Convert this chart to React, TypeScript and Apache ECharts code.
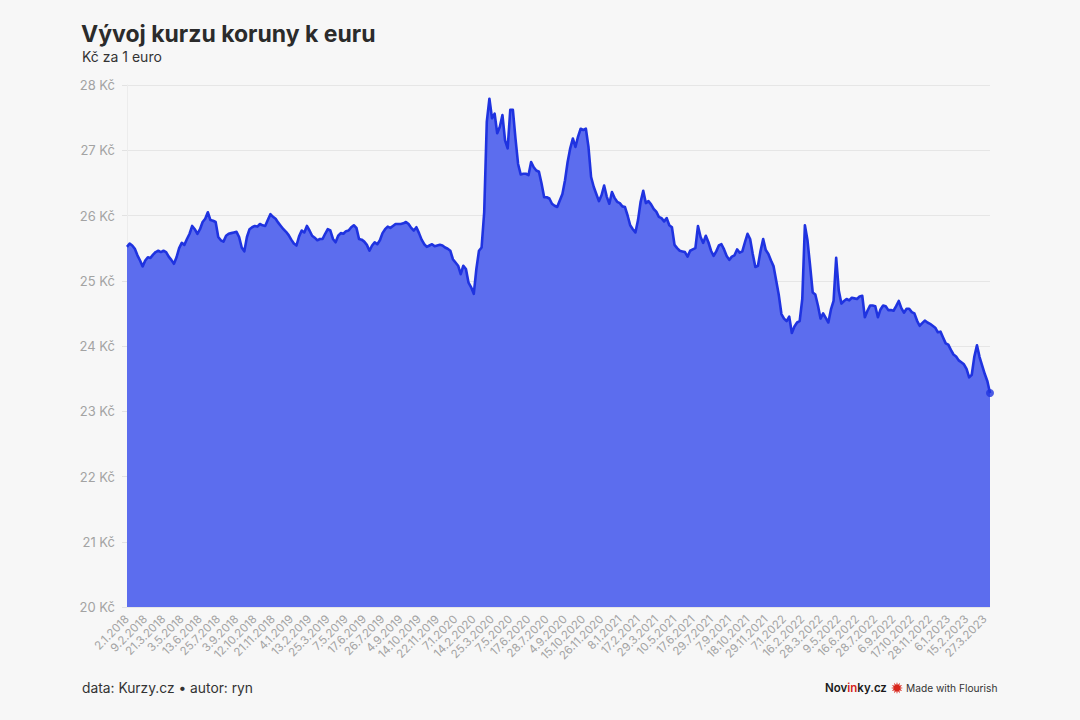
import React, { useEffect, useRef } from "react";
import * as echarts from "echarts";

// One value every 4 trading days (index step), starting 2.1.2018
const STEP = 4;

const rate2018 = [
  25.52, 25.57, 25.54, 25.49, 25.39, 25.31, 25.22, 25.31, 25.36, 25.35,
  25.40, 25.44, 25.46, 25.44, 25.46, 25.44, 25.37, 25.32, 25.26, 25.36,
  25.50, 25.58, 25.55, 25.64, 25.72, 25.84, 25.79, 25.72, 25.79, 25.90,
  25.95, 26.05, 25.93, 25.92, 25.90, 25.67, 25.62, 25.60, 25.69, 25.72,
  25.73, 25.74, 25.75, 25.67, 25.51, 25.45, 25.67, 25.79, 25.82, 25.84,
  25.83, 25.87, 25.85, 25.84, 25.93, 26.02, 25.98, 25.95, 25.89, 25.84,
  25.79, 25.75, 25.70,
];

const rate2019 = [
  25.63, 25.57, 25.54, 25.68, 25.77, 25.74, 25.84, 25.77, 25.69, 25.66,
  25.62, 25.64, 25.64, 25.72, 25.79, 25.77, 25.64, 25.59, 25.69, 25.73,
  25.72, 25.76, 25.77, 25.82, 25.85, 25.81, 25.64, 25.63, 25.60, 25.55,
  25.46, 25.54, 25.59, 25.56, 25.62, 25.73, 25.79, 25.83, 25.81, 25.84,
  25.87, 25.87, 25.87, 25.88, 25.90, 25.87, 25.81, 25.77, 25.82, 25.73,
  25.63, 25.56, 25.52, 25.54, 25.56, 25.53, 25.54, 25.55, 25.54, 25.51,
  25.49, 25.46, 25.33,
];

const rate2020 = [
  25.28, 25.23, 25.10, 25.23, 25.18, 24.97, 24.90, 24.80, 25.18, 25.46,
  25.51, 26.05, 27.44, 27.79, 27.49, 27.56, 27.26, 27.36, 27.54, 27.15,
  27.03, 27.62, 27.62, 27.18, 26.79, 26.63, 26.64, 26.64, 26.62, 26.82,
  26.74, 26.69, 26.67, 26.49, 26.28, 26.28, 26.26, 26.18, 26.15, 26.13,
  26.23, 26.33, 26.54, 26.82, 27.03, 27.18, 27.05, 27.21, 27.33, 27.31,
  27.33, 27.05, 26.59, 26.44, 26.33, 26.22, 26.31, 26.46, 26.29, 26.18,
  26.36, 26.27, 26.21,
];

const rate2021 = [
  26.19, 26.14, 26.13, 26.00, 25.85, 25.79, 25.74, 25.93, 26.21, 26.38,
  26.19, 26.22, 26.17, 26.10, 26.06, 25.98, 25.96, 25.91, 25.96, 25.85,
  25.82, 25.55, 25.50, 25.46, 25.45, 25.44, 25.37, 25.46, 25.48, 25.50,
  25.84, 25.67, 25.58, 25.69, 25.59, 25.46, 25.38, 25.45, 25.54, 25.56,
  25.48, 25.38, 25.32, 25.37, 25.39, 25.48, 25.43, 25.45, 25.59, 25.72,
  25.64, 25.41, 25.21, 25.23, 25.46, 25.64, 25.47, 25.41, 25.31, 25.22,
  25.00, 24.78, 24.49,
];

const rate2022 = [
  24.42, 24.38, 24.45, 24.20, 24.30, 24.36, 24.38, 24.72, 25.85, 25.62,
  25.23, 24.82, 24.79, 24.62, 24.42, 24.50, 24.43, 24.36, 24.56, 24.69,
  25.35, 24.85, 24.65, 24.69, 24.72, 24.70, 24.74, 24.73, 24.72, 24.76,
  24.77, 24.44, 24.54, 24.62, 24.62, 24.61, 24.44, 24.56, 24.62, 24.61,
  24.55, 24.55, 24.54, 24.61, 24.69, 24.58, 24.51, 24.57, 24.57, 24.52,
  24.50, 24.39, 24.31, 24.35, 24.39, 24.36, 24.34, 24.31, 24.28, 24.21,
  24.22, 24.13, 24.04,
];

const rate2023 = [
  24.02, 23.94, 23.87, 23.84, 23.78, 23.75, 23.72, 23.65, 23.52, 23.56,
  23.84, 24.01, 23.83, 23.70, 23.57, 23.46, 23.28,
];

// Axis tick labels: one every 28 trading days
const tickLabels = [
  "2.1.2018", "9.2.2018", "21.3.2018", "3.5.2018", "13.6.2018", "25.7.2018",
  "3.9.2018", "12.10.2018", "21.11.2018", "4.1.2019", "13.2.2019", "25.3.2019",
  "7.5.2019", "17.6.2019", "26.7.2019", "4.9.2019", "14.10.2019", "22.11.2019",
  "7.1.2020", "14.2.2020", "25.3.2020", "7.5.2020", "17.6.2020", "28.7.2020",
  "4.9.2020", "15.10.2020", "26.11.2020", "8.1.2021", "17.2.2021", "29.3.2021",
  "10.5.2021", "17.6.2021", "29.7.2021", "7.9.2021", "18.10.2021", "29.11.2021",
  "7.1.2022", "16.2.2022", "28.3.2022", "9.5.2022", "16.6.2022", "28.7.2022",
  "6.9.2022", "17.10.2022", "28.11.2022", "6.1.2023", "15.2.2023", "27.3.2023",
];
const TICK_EVERY = 28;

const yMin = 20;
const yMax = 28;

const FONT = "Inter, 'Noto Sans', sans-serif";

export default function App() {
  const ref = useRef<HTMLDivElement>(null);

  useEffect(() => {
    document.body.style.margin = "0";
    document.body.style.background = "#f7f7f7";
    if (!ref.current) return;
    const chart = echarts.init(ref.current, undefined, { renderer: "svg" });

    const values = [...rate2018, ...rate2019, ...rate2020, ...rate2021, ...rate2022, ...rate2023];
    const data = values.map((v, i) => [i * STEP, v]);
    const last = data[data.length - 1];
    const xMax = (values.length - 1) * STEP;

    // Flourish logo burst
    const burst: number[][] = [];
    const nPts = 24;
    for (let k = 0; k < nPts; k++) {
      const r = k % 2 === 0 ? 6 : 3.2;
      const a = (Math.PI * 2 * k) / nPts;
      burst.push([r * Math.cos(a), r * Math.sin(a)]);
    }

    chart.setOption({
      animation: false,
      backgroundColor: "#f7f7f7",
      textStyle: { fontFamily: FONT },
      title: [
        {
          text: "Vývoj kurzu koruny k euru",
          left: 81,
          top: 22,
          padding: 0,
          textStyle: { fontFamily: FONT, fontSize: 23, fontWeight: 700, color: "#2b2b2b" },
        },
        {
          text: "Kč za 1 euro",
          left: 82,
          top: 49,
          padding: 0,
          textStyle: { fontFamily: FONT, fontSize: 14, fontWeight: 400, color: "#333" },
        },
      ],
      grid: { left: 127, right: 90, top: 85, bottom: 113, containLabel: false },
      xAxis: {
        type: "value",
        min: 0,
        max: xMax,
        interval: TICK_EVERY,
        axisLine: { show: false },
        axisTick: { show: false },
        splitLine: { show: false },
        axisLabel: {
          rotate: 45,
          fontSize: 11.5,
          color: "#a3a3a3",
          margin: 10,
          showMaxLabel: false,
          formatter: (v: number) => {
            if (v % TICK_EVERY !== 0) return "";
            return tickLabels[v / TICK_EVERY] ?? "";
          },
        },
      },
      yAxis: {
        type: "value",
        min: yMin,
        max: yMax,
        interval: 1,
        axisLine: { show: true, lineStyle: { color: "#ececec" } },
        axisTick: { show: true, length: 5, lineStyle: { color: "#e2e2e2" } },
        splitLine: { show: true, lineStyle: { color: "#e6e6e6", width: 1 } },
        axisLabel: {
          fontSize: 13,
          color: "#a3a3a3",
          margin: 12,
          formatter: (v: number) => `${v} Kč`,
        },
      },
      series: [
        {
          type: "line",
          data,
          showSymbol: false,
          symbol: "none",
          lineStyle: { color: "#1f33e0", width: 2.6, join: "round" },
          areaStyle: { color: "#5c6dee", opacity: 1, origin: "start" },
          z: 2,
        },
        {
          type: "scatter",
          data: [last],
          symbolSize: 8,
          itemStyle: { color: "#1f33e0" },
          z: 3,
        },
      ],
      graphic: [
        {
          type: "text",
          left: 82,
          top: 681,
          style: {
            text: "data: Kurzy.cz • autor: ryn",
            fontSize: 13.8,
            fontFamily: FONT,
            fill: "#333",
          },
        },
        {
          type: "text",
          left: 825,
          top: 682,
          style: {
            text: "{a|Nov}{b|in}{a|ky.cz}",
            fontFamily: FONT,
            rich: {
              a: { fontSize: 11.5, fontWeight: 600, fill: "#1a1a1a", fontFamily: FONT },
              b: { fontSize: 11.5, fontWeight: 600, fill: "#d4231a", fontFamily: FONT },
            },
          },
        },
        {
          type: "polygon",
          x: 897,
          y: 688,
          shape: { points: burst },
          style: { fill: "#d8261c" },
        },
        {
          type: "text",
          left: 906,
          top: 683,
          style: {
            text: "Made with Flourish",
            fontSize: 10.2,
            fontFamily: FONT,
            fill: "#333",
          },
        },
      ],
    });

    return () => chart.dispose();
  }, []);

  return (
    <div
      ref={ref}
      style={{ position: "absolute", left: 0, top: 0, width: 1080, height: 720, background: "#f7f7f7" }}
    />
  );
}
